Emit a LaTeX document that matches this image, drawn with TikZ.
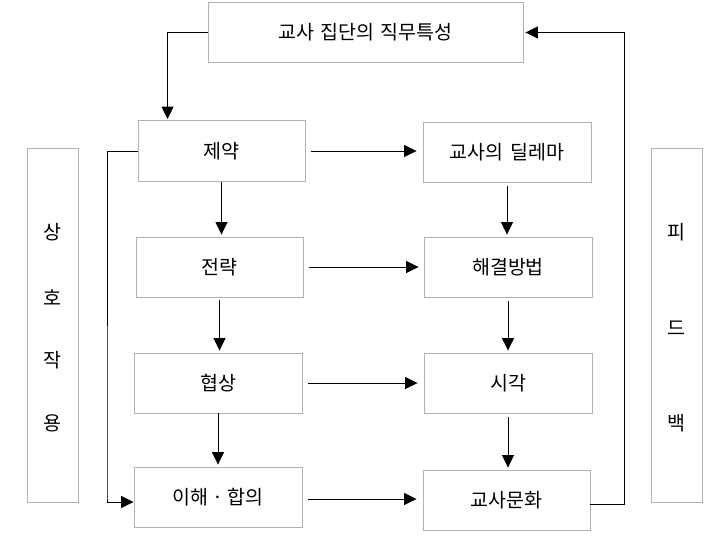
\documentclass[tikz,border=0pt]{standalone}
\usepackage{fontspec}
\setmainfont{Noto Sans CJK KR}
\usetikzlibrary{arrows.meta,calc}
\begin{document}
\begin{tikzpicture}[x=1pt,y=-1pt,
  box/.style={draw=black!30,line width=0.9pt,minimum width=168pt,minimum height=60pt,inner sep=0pt,font=\fontsize{19.5}{22}\selectfont},
  tallbox/.style={draw=black!30,line width=0.9pt,minimum width=51pt,minimum height=354pt,inner sep=0pt},
  vlabel/.style={font=\fontsize{19.5}{22}\selectfont,inner sep=0pt},
  arr/.style={line width=1pt,-{Triangle[length=12.5pt,width=12pt]}},
  ln/.style={line width=1pt}]
\useasboundingbox (0,0) rectangle (711,539);
\node[box,minimum width=315pt] (top) at (365.5,32.5) {교사\hspace{0.3em}집단의\hspace{0.3em}직무특성};
\node[box,minimum width=167pt,minimum height=61pt] (jeyak) at (221.5,151) {제약};
\node[box] (dilemma) at (507,152) {교사의\hspace{0.4em}딜레마};
\node[box,minimum width=167pt] (jeollyak) at (219.5,267) {전략};
\node[box] (haegyeol) at (508,267) {해결방법};
\node[box] (hyeopsang) at (218,383) {협상};
\node[box] (sigak) at (508,383) {시각};
\node[box] (ihae) at (218,497) {이해\hspace{0.2em}·\hspace{0.2em}합의};
\node[box,minimum width=167pt] (munhwa) at (506.5,500) {교사문화};
\node[tallbox] (left) at (52.5,325) {};
\node[tallbox] (right) at (676.5,325) {};
\node[vlabel] (l1) at (52.5,232) {상};
\node[vlabel] (l2) at (52.5,298) {호};
\node[vlabel] (l3) at (52.5,360) {작};
\node[vlabel] (l4) at (52.5,423) {용};
\node[vlabel] (r1) at (676.5,232) {피};
\node[vlabel] (r2) at (676.5,328) {드};
\node[vlabel] (r3) at (676.5,423) {백};
% top to jeyak
\coordinate (jt) at ([xshift=30pt]jeyak.north west);
\draw[arr,shorten >=1pt] (top.west) -| (jt);
% horizontal arrows
\draw[arr,shorten <=6pt,shorten >=6pt] (jeyak.east) -- (jeyak.east -| dilemma.west);
\draw[arr,shorten <=6pt,shorten >=5pt] (jeollyak.east) -- (haegyeol.west);
\draw[arr,shorten <=6pt,shorten >=6pt] (hyeopsang.east) -- (hyeopsang.east -| sigak.west);
\draw[arr,shorten <=6pt,shorten >=6pt] ([yshift=-2pt]ihae.east) -- ([yshift=-2pt]ihae.east -| munhwa.west);
% vertical arrows left
\draw[arr,shorten >=2pt] (jeyak.south) -- (jeyak.south |- jeollyak.north);
\draw[arr,shorten >=2pt,shorten <=3pt] (jeollyak.south) -- (jeollyak.south |- hyeopsang.north);
\draw[arr,shorten >=2pt] (hyeopsang.south) -- (hyeopsang.south |- ihae.north);
% vertical arrows right
\draw[arr,shorten <=4pt,shorten >=2pt] (dilemma.south) -- (dilemma.south |- haegyeol.north);
\draw[arr,shorten <=4pt,shorten >=2pt] (haegyeol.south) -- (haegyeol.south |- sigak.north);
\draw[arr,shorten <=4pt,shorten >=2pt] (sigak.south) -- (sigak.south |- munhwa.north);
% left loop
\coordinate (lx) at (107,0);
\draw[arr] (jeyak.west) -| (lx |- ihae.west) |- ([yshift=-5pt]ihae.west);
% right feedback loop
\coordinate (rx) at (624,0);
\draw[arr,shorten >=2pt] ([yshift=-4pt]munhwa.east) -| (rx |- top.east) -- (top.east);
\end{tikzpicture}
\end{document}
